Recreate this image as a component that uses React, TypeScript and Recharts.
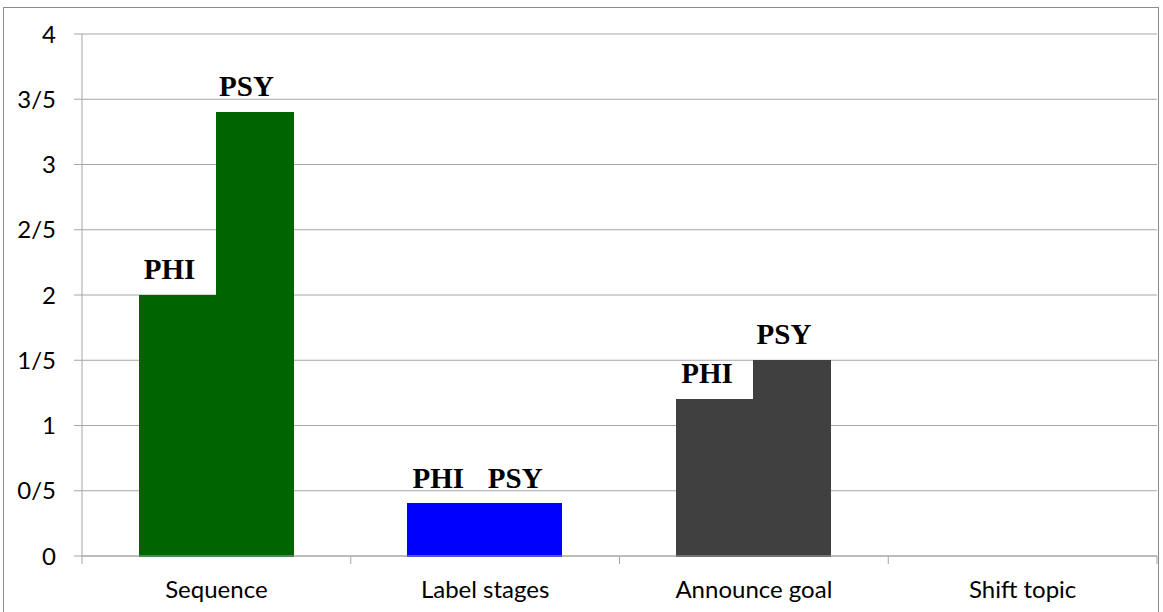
import { BarChart, Bar, XAxis, YAxis, CartesianGrid, Cell, LabelList } from 'recharts';

const categories = ['Sequence', 'Label stages', 'Announce goal', 'Shift topic'];
const phiValues = [2, 0.4, 1.2, 0];
const psyValues = [3.4, 0.4, 1.5, 0];
const categoryColors = ['#006400', '#0000FF', '#404040', '#7F7F7F'];
const yTicks = [0, 0.5, 1, 1.5, 2, 2.5, 3, 3.5, 4];

const data = categories.map((name, i) => ({ name, phi: phiValues[i], psy: psyValues[i] }));

const W = 1163;
const H = 612;
const margin = { top: 34, right: 6, bottom: 0, left: 0 };
const Y_AXIS_W = 82;
const X_AXIS_H = 56;
const GRID = '#a6a6a6';
const bandWidth = (W - margin.left - margin.right - Y_AXIS_W) / categories.length;

// series name written above each non-zero bar
const seriesLabel = (text: string) => (props: any) => {
  const { x, y, width, value } = props;
  if (!value) return null;
  return (
    <text
      x={Number(x) + Number(width) / 2 - 8}
      y={Number(y) - 16}
      textAnchor="middle"
      fontFamily="'Liberation Serif', 'Times New Roman', serif"
      fontWeight="bold"
      fontSize={29}
      fill="#000"
    >
      {text}
    </text>
  );
};

// category label plus tick marks on the band boundaries
const CategoryTick = (props: any) => {
  const { x, y, payload, index } = props;
  const left = x - bandWidth / 2;
  const right = x + bandWidth / 2;
  return (
    <g>
      <line x1={left} y1={y} x2={left} y2={y + 8} stroke={GRID} />
      {index === categories.length - 1 && <line x1={right} y1={y} x2={right} y2={y + 8} stroke={GRID} />}
      <text x={x} y={y + 42} textAnchor="middle" fontFamily="Lato, 'Open Sans', sans-serif" fontSize={24} fill="#000">
        {payload.value}
      </text>
    </g>
  );
};

export default function App() {
  return (
    <div style={{ position: 'absolute', left: 0, top: 0, width: W, height: H, background: '#fff', overflow: 'hidden' }}>
      <div
        style={{
          position: 'absolute',
          left: 3,
          top: 7,
          width: 1156,
          height: 640,
          border: '1px solid #8c8c8c',
          boxSizing: 'border-box',
        }}
      />
      <div style={{ position: 'absolute', left: 0, top: 0 }}>
        <BarChart width={W} height={H} data={data} margin={margin} barCategoryGap={57} barGap={0}>
          <CartesianGrid vertical={false} stroke={GRID} />
          <XAxis
            dataKey="name"
            height={X_AXIS_H}
            axisLine={{ stroke: GRID }}
            tickLine={false}
            tickSize={0}
            tickMargin={0}
            tick={<CategoryTick />}
            interval={0}
          />
          <YAxis
            width={Y_AXIS_W}
            domain={[0, 4]}
            ticks={yTicks}
            interval={0}
            axisLine={{ stroke: GRID }}
            tickLine={{ stroke: GRID }}
            tickSize={8}
            tickMargin={18}
            tickFormatter={(v: number) => String(v).replace('.', '/')}
            tick={{ fill: '#000', fontSize: 24, fontFamily: "Lato, 'Open Sans', sans-serif" }}
          />
          <Bar dataKey="phi" isAnimationActive={false}>
            {data.map((d, i) => (
              <Cell key={d.name} fill={categoryColors[i]} stroke={categoryColors[i]} strokeWidth={1} shapeRendering="crispEdges" />
            ))}
            <LabelList dataKey="phi" content={seriesLabel('PHI')} />
          </Bar>
          <Bar dataKey="psy" isAnimationActive={false}>
            {data.map((d, i) => (
              <Cell key={d.name} fill={categoryColors[i]} stroke={categoryColors[i]} strokeWidth={1} shapeRendering="crispEdges" />
            ))}
            <LabelList dataKey="psy" content={seriesLabel('PSY')} />
          </Bar>
        </BarChart>
      </div>
    </div>
  );
}
